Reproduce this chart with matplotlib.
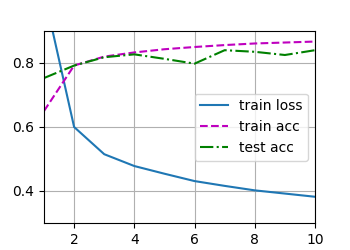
import matplotlib
matplotlib.use("Agg")
import matplotlib.pyplot as plt

epochs = [1, 2, 3, 4, 5, 6, 7, 8, 9, 10]
train_loss = [1.02, 0.600, 0.515, 0.478, 0.454, 0.431, 0.416, 0.402, 0.392, 0.382]
train_acc = [0.650, 0.792, 0.820, 0.833, 0.843, 0.850, 0.856, 0.861, 0.864, 0.867]
test_acc = [0.753, 0.792, 0.818, 0.827, 0.813, 0.798, 0.840, 0.835, 0.825, 0.840]
labels = ["train loss", "train acc", "test acc"]

fig, ax = plt.subplots(figsize=(3.5, 2.5), dpi=100)
ax.plot(epochs, train_loss, "-", color="#1f77b4", label=labels[0])
ax.plot(epochs, train_acc, "m--", label=labels[1])
ax.plot(epochs, test_acc, "g-.", label=labels[2])
ax.set_xlim(1, 10)
ax.set_ylim(0.3, 0.9)
ax.set_xticks([2, 4, 6, 8, 10])
ax.set_yticks([0.4, 0.6, 0.8])
ax.grid(True)
ax.legend(loc="center right")
fig.subplots_adjust(left=44/350, right=315/350, top=1-31/250, bottom=1-223/250)
fig.savefig("out.png")
